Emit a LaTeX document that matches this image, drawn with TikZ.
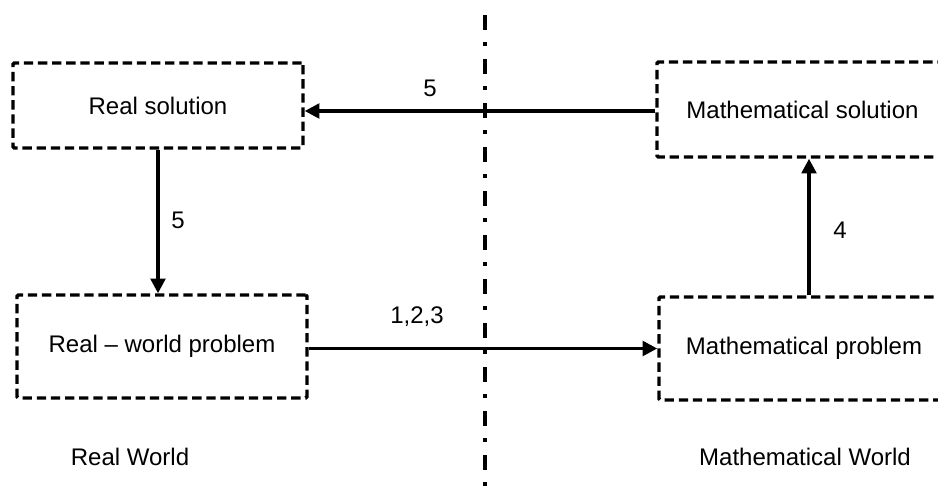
\documentclass[tikz,border=0pt]{standalone}
\usepackage{fontspec}
\setmainfont{Liberation Sans}
\usetikzlibrary{arrows.meta}
\begin{document}
\begin{tikzpicture}[x=0.75pt,y=-0.75pt,
  every node/.style={font=\fontsize{18pt}{20pt}\selectfont, inner sep=0pt},
  box/.style={draw, line width=2.6pt, dash pattern=on 7pt off 3.6pt, rectangle, rounded corners=1pt},
  arr/.style={line width=2.5pt, -{Triangle[length=11pt,width=11pt]}},
  divider/.style={line width=2.6pt, dash pattern=on 11.25pt off 9pt on 3pt off 9.75pt}]
\useasboundingbox (0,0) rectangle (938,497);
\clip (0,0) rectangle (938,497);
\fill[white] (0,0) rectangle (938,497);
% divider
\coordinate (dtop) at (485,15);
\coordinate (dbot) at (485,500);
\draw[divider] (dtop) -- (dbot);
% boxes
\node[box, minimum width=217.5pt, minimum height=63.75pt] (rsol) at (158,105.5) {Real solution};
\node[box, minimum width=218.25pt, minimum height=71.25pt] (msol) at (802.5,109.5) {Mathematical solution};
\node[box, minimum width=217.5pt, minimum height=77.25pt] (rwp) at (162,346.5) {Real -- world problem};
\node[box, minimum width=217.5pt, minimum height=77.25pt] (mprob) at (804,348.5) {Mathematical problem};
% connectors
\draw[arr] (msol.west |- 0,111) -- (rsol.east |- 0,111);
\draw[arr] (rsol.south -| 158,0) -- (rwp.north -| 158,0);
\draw[arr] (rwp.east |- 0,348.5) -- (mprob.west |- 0,348.5);
\draw[arr] (mprob.north -| 809,0) -- (msol.south -| 809,0);
% labels
\node (l5a) at (430,88) {5};
\node (l5b) at (178,220) {5};
\node (l123) at (417,317) {1,2,3};
\node (l4) at (840,230) {4};
\node (rw) at (130,457) {Real World};
\node (mw) at (805,457) {Mathematical World};
\end{tikzpicture}
\end{document}
